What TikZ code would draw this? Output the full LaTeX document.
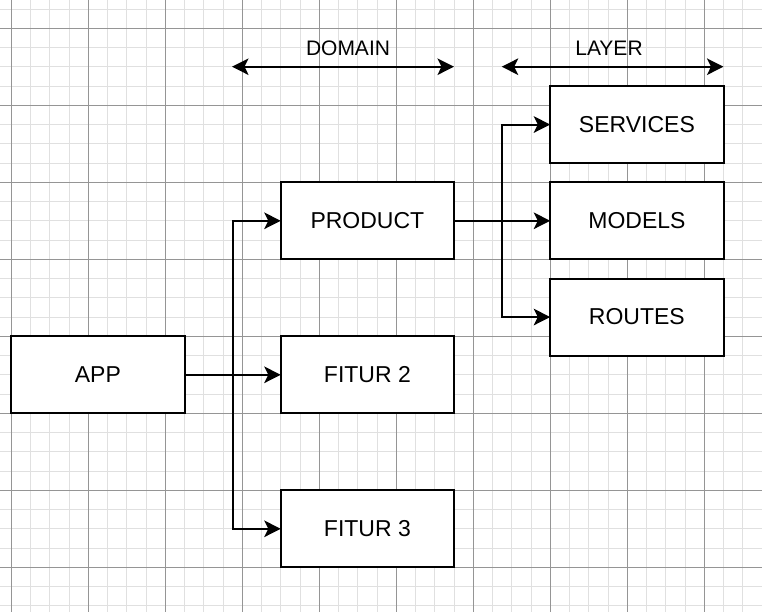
\documentclass[tikz,border=0pt]{standalone}
\usepackage{fontspec}
\setmainfont{Liberation Sans}
\usetikzlibrary{arrows.meta}
\definecolor{minorgrid}{HTML}{E0E0E0}
\definecolor{majorgrid}{HTML}{959595}
\begin{document}
\begin{tikzpicture}[x=1pt,y=-1pt,
  box/.style={draw=black,line width=2pt,fill=white,minimum width=173.25pt,minimum height=77pt,outer sep=0pt,inner sep=0pt,font=\fontsize{23}{26}\selectfont},
  lbl/.style={font=\fontsize{21}{24}\selectfont,inner sep=0pt},
  conn/.style={line width=2pt,-{Stealth[length=16.5pt,width=16.5pt,inset=4pt]}},
  dbl/.style={line width=2pt,{Stealth[length=16.5pt,width=16.5pt,inset=4pt]}-{Stealth[length=16.5pt,width=16.5pt,inset=4pt]}}]
\useasboundingbox (0,0) rectangle (762,612);
\fill[white] (0,0) rectangle (762,612);
\begin{scope}
\clip (0,0) rectangle (762,612);
\foreach \i in {-1,...,40} {
  \draw[minorgrid,line width=1pt] ({11.3+\i*19.25},0) -- ({11.3+\i*19.25},612);
  \draw[minorgrid,line width=1pt] (0,{9.05+\i*19.25}) -- (762,{9.05+\i*19.25});
}
\foreach \i in {0,...,10} {
  \draw[majorgrid,line width=1pt] ({11.3+\i*77},0) -- ({11.3+\i*77},612);
  \draw[majorgrid,line width=1pt] (0,{28.3+\i*77}) -- (762,{28.3+\i*77});
}
\end{scope}
% nodes
\node[box] (app) at (97.9,374.8) {APP};
\node[box] (prod) at (367.4,220.8) {PRODUCT};
\node[box] (f2) at (367.4,374.8) {FITUR 2};
\node[box] (f3) at (367.4,528.8) {FITUR 3};
\node[box] (serv) at (636.9,124.55) {SERVICES};
\node[box] (mod) at (636.9,220.8) {MODELS};
\node[box] (rout) at (636.9,317.05) {ROUTES};
% labels
\node[lbl] (domain) at (348,48.5) {DOMAIN};
\node[lbl] (layer) at (609,48.5) {LAYER};
% dimension arrows
\coordinate (d1) at (232,66.7);
\coordinate (d2) at (454,66.7);
\coordinate (l1) at (501.7,66.7);
\coordinate (l2) at (723.5,66.7);
\draw[dbl] (d1) -- (d2);
\draw[dbl] (l1) -- (l2);
% connectors
\coordinate (ja) at (233,374.8);
\coordinate (jp) at (502,220.8);
\draw[conn] (app.east) -- (f2.west);
\draw[conn] (ja) |- (prod.west);
\draw[conn] (ja) |- (f3.west);
\draw[conn] (prod.east) -- (mod.west);
\draw[conn] (jp) |- (serv.west);
\draw[conn] (jp) |- (rout.west);
\end{tikzpicture}
\end{document}
